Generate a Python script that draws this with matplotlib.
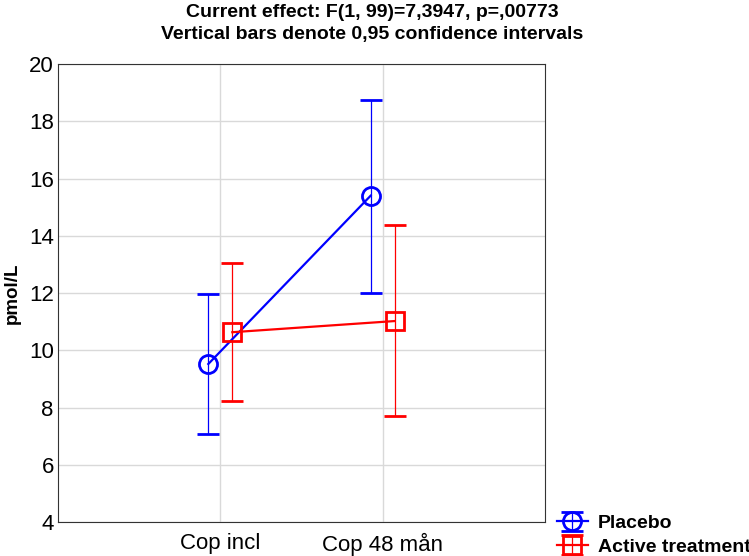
import matplotlib.pyplot as plt
import numpy as np

plt.rcParams['font.family'] = ['Liberation Sans', 'DejaVu Sans']

categories = ['Cop incl', 'Cop 48 mån']
placebo_mean = [9.52, 15.40]
placebo_low = [7.08, 12.00]
placebo_high = [11.95, 18.75]
active_mean = [10.63, 11.02]
active_low = [8.22, 7.70]
active_high = [13.05, 14.37]

fig = plt.figure(figsize=(7.49, 5.56), dpi=100)
ax = fig.add_axes([58 / 749, 34 / 556, 487 / 749, 458 / 556])

x = np.arange(len(categories))
off = 0.074

def draw(xs, mean, low, high, color, marker, label, ms):
    mean = np.array(mean)
    yerr = [mean - np.array(low), np.array(high) - mean]
    ax.errorbar(xs, mean, yerr=yerr, color=color, marker=marker, ms=ms,
                mfc='none', mec=color, mew=2, lw=1.6, elinewidth=0.9,
                capsize=8, capthick=0.9, label=label, zorder=3)

draw(x - off, placebo_mean, placebo_low, placebo_high, '#0000ff', 'o', 'Placebo', 13)
draw(x + off, active_mean, active_low, active_high, '#ff0000', 's', 'Active treatment', 12.5)

ax.set_xlim(-1, 2)
ax.set_ylim(4, 20)
ax.set_xticks(x)
ax.set_xticklabels(categories, fontsize=16)
ax.set_yticks(np.arange(4, 21, 2))
ax.tick_params(axis='y', labelsize=16, length=0, pad=3)
ax.tick_params(axis='x', length=0, pad=8)
ax.grid(True, color='#d9d9d9', lw=1)
ax.set_axisbelow(True)
for s in ax.spines.values():
    s.set_color('#333333')
ax.set_ylabel('pmol/L', fontsize=13.5, fontweight='bold', labelpad=6)

fig.text(372 / 749, 1 - 4 / 556,
         'Current effect: F(1, 99)=7,3947, p=,00773\nVertical bars denote 0,95 confidence intervals',
         ha='center', va='top', fontsize=14, fontweight='bold', linespacing=1.35)

fig.legend(loc='lower left', bbox_to_anchor=(547 / 749, -0.017), frameon=False,
           prop={'size': 14, 'weight': 'bold'}, handlelength=1.6,
           borderaxespad=0.1, labelspacing=0.3, handletextpad=0.5)

fig.savefig('out.png', dpi=100)
